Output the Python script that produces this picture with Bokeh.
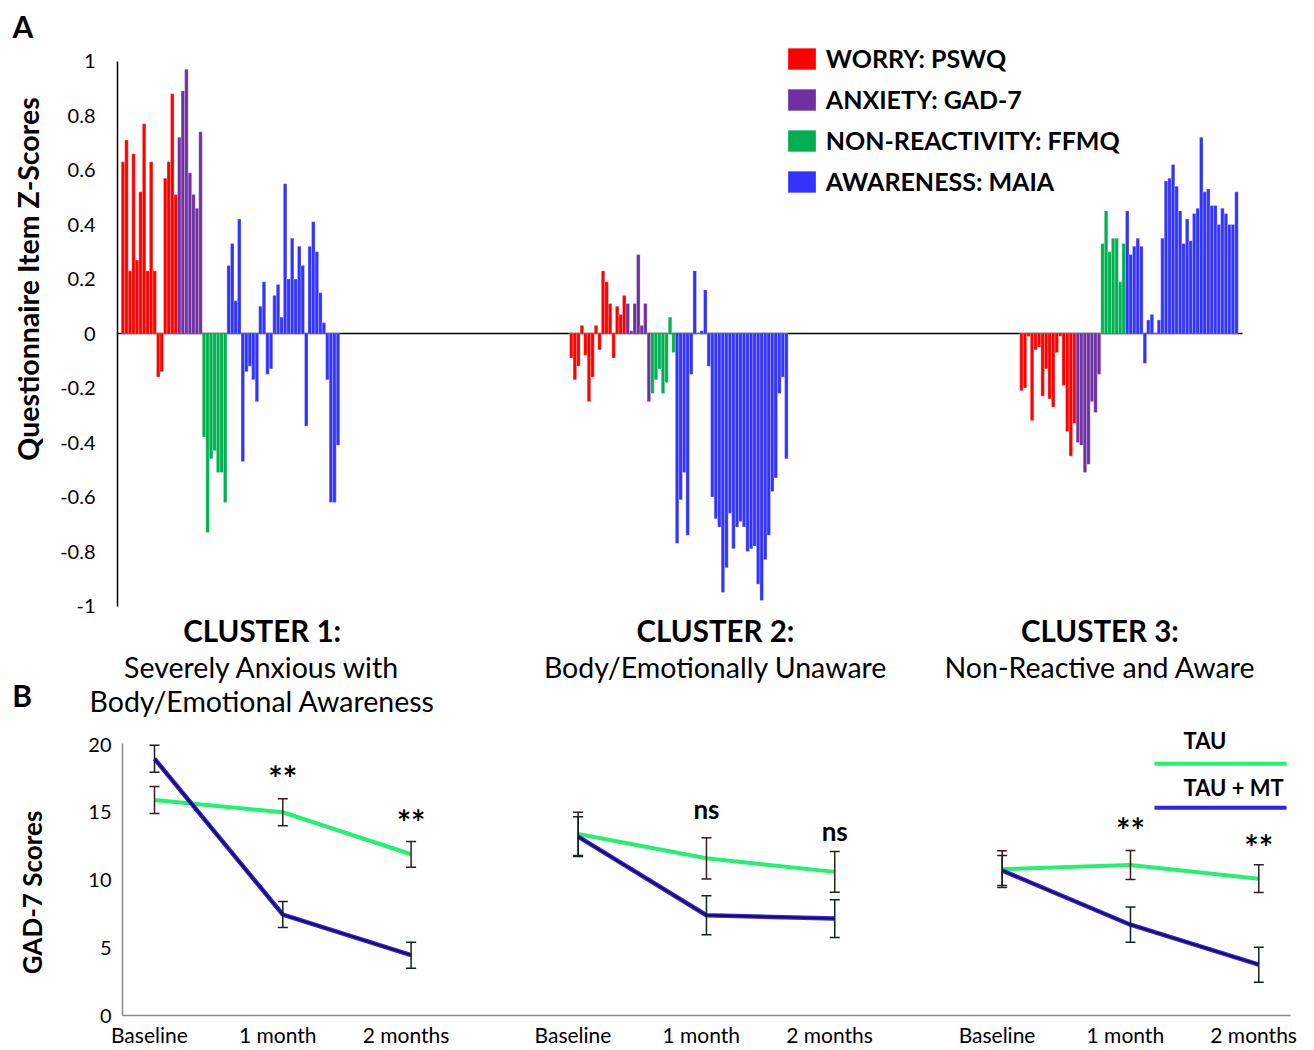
import math
from bokeh.plotting import figure
from bokeh.models import (Range1d, LinearAxis, FixedTicker, Legend, LegendItem,
                          Whisker, TeeHead, ColumnDataSource)
from bokeh.layouts import column, row
from bokeh.embed import file_html
from bokeh.resources import INLINE
from bokeh.core.properties import value

FONT = "Lato"

# ---------------- Panel A data ----------------
QUESTIONNAIRES = ["WORRY: PSWQ", "ANXIETY: GAD-7", "NON-REACTIVITY: FFMQ", "AWARENESS: MAIA"]
Q_COLORS = ["#FF0000", "#7030A0", "#00B050", "#3333FF"]

PSWQ_C1 = [0.63, 0.71, 0.23, 0.66, 0.27, 0.52, 0.77, 0.23, 0.63, 0.23, -0.16, -0.14, 0.57, 0.63, 0.88, 0.51]
GAD7_C1 = [0.72, 0.89, 0.97, 0.59, 0.51, 0.46, 0.74]
FFMQ_C1 = [-0.38, -0.73, -0.46, -0.43, -0.51, -0.51, -0.62]
MAIA_C1 = [0.25, 0.33, 0.12, 0.42, -0.47, -0.14, -0.12, -0.17, -0.25, 0.10, 0.19, -0.15, -0.13, 0.14, 0.18, 0.06,
           0.55, 0.20, 0.35, 0.20, 0.32, 0.25, -0.34, 0.32, 0.41, 0.30, 0.15, 0.04, -0.17, -0.62, -0.62, -0.41]

PSWQ_C2 = [-0.09, -0.17, -0.12, 0.03, -0.08, -0.25, -0.16, 0.03, -0.06, 0.23, 0.19, 0.11, -0.09, 0.10, 0.07, 0.14]
GAD7_C2 = [0.11, 0.01, 0.11, 0.29, 0.03, 0.11, -0.25]
FFMQ_C2 = [-0.22, -0.17, -0.13, -0.22, -0.18, 0.06, -0.07]
MAIA_C2 = [-0.77, -0.61, -0.51, -0.74, -0.15, 0.23, 0.0, 0.01, 0.16, -0.12, -0.60, -0.68, -0.71, -0.95, -0.86, -0.66,
           -0.79, -0.71, -0.69, -0.71, -0.80, -0.79, -0.78, -0.92, -0.98, -0.83, -0.74, -0.58, -0.53, -0.22, -0.16, -0.46]

PSWQ_C3 = [-0.21, -0.20, -0.01, -0.32, -0.06, -0.05, -0.23, -0.13, -0.24, -0.27, -0.07, -0.01, -0.19, -0.36, -0.45, -0.33]
GAD7_C3 = [-0.40, -0.41, -0.51, -0.48, -0.25, -0.29, -0.15]
FFMQ_C3 = [0.33, 0.45, 0.30, 0.35, 0.35, 0.19, 0.33]
MAIA_C3 = [0.45, 0.29, 0.32, 0.35, 0.32, -0.11, 0.05, 0.07, 0.0, 0.05, 0.35, 0.56, 0.57, 0.62, 0.54, 0.45,
           0.33, 0.42, 0.34, 0.44, 0.46, 0.72, 0.52, 0.53, 0.47, 0.47, 0.40, 0.46, 0.44, 0.40, 0.40, 0.52]

PSWQ = [PSWQ_C1, PSWQ_C2, PSWQ_C3]
GAD7 = [GAD7_C1, GAD7_C2, GAD7_C3]
FFMQ = [FFMQ_C1, FFMQ_C2, FFMQ_C3]
MAIA = [MAIA_C1, MAIA_C2, MAIA_C3]

CLUSTER_TITLES = ["CLUSTER 1:", "CLUSTER 2:", "CLUSTER 3:"]
CLUSTER_SUBTITLES = [["Severely Anxious with", "Body/Emotional Awareness"],
                     ["Body/Emotionally Unaware"],
                     ["Non-Reactive and Aware"]]
Y_LABEL_A = "Questionnaire Item Z-Scores"

Z_TICKS = [-1, -0.8, -0.6, -0.4, -0.2, 0, 0.2, 0.4, 0.6, 0.8, 1]
Z_TICK_LABELS = ["-1", "-0.8", "-0.6", "-0.4", "-0.2", "0", "0.2", "0.4", "0.6", "0.8", "1"]

# ---------------- Panel B data ----------------
TIMEPOINTS = ["Baseline", "1 month", "2 months"]
TAU_MEAN = [[15.9, 15.0, 11.9], [13.4, 11.6, 10.6], [10.8, 11.1, 10.1]]
TAU_ERR = [[1.0, 1.0, 0.95], [1.6, 1.52, 1.5], [1.35, 1.07, 1.02]]
MT_MEAN = [[18.95, 7.45, 4.45], [13.2, 7.4, 7.15], [10.7, 6.7, 3.75]]
MT_ERR = [[1.0, 0.96, 0.96], [1.47, 1.44, 1.39], [1.1, 1.3, 1.29]]
SIG_TEXT = [["**", "**"], ["ns", "ns"], ["**", "**"]]
SIG_Y = [[17.6, 14.35], [15.25, 13.65], [13.75, 12.5]]
GAD_TICKS = [0, 5, 10, 15, 20]
Y_LABEL_B = "GAD-7 Scores"
LEGEND_B = ["TAU", "TAU + MT"]

TAU_COLOR = "#22F26E"
MT_COLOR = "#3322E6"
MT_CORE = "#170a55"

# ---------------- layout helpers (page pixels -> data units) ----------------
PAGE_W = 1314
STRIP_A_W = 45
STRIP_B_W = 50
A_TOP_H = 648
A_BOT_H = 74
A_H = A_TOP_H + A_BOT_H
B_H = 328

BAR_PX = 3.525
BAR0_PX = 120.7
ZERO_PY = 333.0
Z_PX = 272.5
CLUSTER_OFFSETS = [0.0, 127.2, 254.9]


def ax(px):
    return (px - BAR0_PX) / BAR_PX


def ay(py):
    return (ZERO_PY - py) / Z_PX


B_X0 = 154.0
B_STEP = 128.3
B_Y0 = 1015.0
B_YPX = 13.55
B_CLUSTER_OFFSETS = [0.0, 3.302, 6.607]


def bx(px):
    return (px - B_X0) / B_STEP


def by(py):
    return (B_Y0 - py) / B_YPX


def blank(width, height, xr, yr, left=0, bottom=0):
    return figure(width=width, height=height, x_range=xr, y_range=yr, x_axis_type=None, y_axis_type=None,
                  output_backend="svg", toolbar_location=None, title=None,
                  min_border_left=left, min_border_right=0, min_border_top=0, min_border_bottom=bottom,
                  outline_line_color=None, background_fill_color="white", border_fill_color="white")


# ================= Panel A (bars) =================
stripA = blank(STRIP_A_W, A_TOP_H, Range1d(0, STRIP_A_W), Range1d(ay(A_TOP_H), ay(0)))
stripA.text(x=[22.5], y=[ay(25)], text=["A"], text_font=value(FONT), text_font_style="bold",
            text_font_size="30px", text_align="center", text_baseline="middle", text_color="black")
stripA.text(x=[27.5], y=[ay(278.5)], text=[Y_LABEL_A], angle=math.pi / 2, text_font=value(FONT),
            text_font_style="bold", text_font_size="28.5px", text_align="center", text_baseline="middle",
            text_color="black")

pA = blank(PAGE_W - STRIP_A_W, A_TOP_H, Range1d(ax(117), ax(PAGE_W)), Range1d(ay(A_TOP_H), ay(0)),
           left=117 - STRIP_A_W)

yaxA = LinearAxis(ticker=FixedTicker(ticks=Z_TICKS), bounds=(-1, 1),
                  major_label_overrides=dict(zip(Z_TICKS, Z_TICK_LABELS)),
                  major_tick_out=0, major_tick_in=0, minor_tick_out=0, minor_tick_in=0,
                  axis_line_color="black", axis_line_width=1.5,
                  major_label_standoff=22, major_label_text_font=FONT, major_label_text_font_size="20px",
                  major_label_text_color="black")
pA.add_layout(yaxA, "left")

# zero baseline of the bars
pA.segment(x0=[ax(117)], y0=[0], x1=[ax(1242)], y1=[0], line_color="black", line_width=1.5)

items = []
start = 0
for name, color, data in zip(QUESTIONNAIRES, Q_COLORS, [PSWQ, GAD7, FFMQ, MAIA]):
    xs, tops = [], []
    for c in range(3):
        for i, v in enumerate(data[c]):
            xs.append(CLUSTER_OFFSETS[c] + start + i + 0.5)
            tops.append(v)
    r = pA.vbar(x=xs, top=tops, bottom=0, width=1.0, fill_color=color, line_color="white",
                line_alpha=0.45, line_width=0.6)
    items.append(LegendItem(label=name, renderers=[r]))
    start += len(data[0])

legA = Legend(items=items, location=(783.8 - 117, A_TOP_H - 196.3), orientation="vertical",
              glyph_width=35, glyph_height=27, label_standoff=7, spacing=11, padding=0, margin=0,
              border_line_color=None, background_fill_alpha=0,
              label_text_font=FONT, label_text_font_style="bold", label_text_font_size="25px",
              label_text_color="black", label_height=22)
pA.add_layout(legA)

title_x = [ax(261.7), ax(715.0), ax(1099.5)]
pA.text(x=title_x, y=[ay(629.5)] * 3, text=CLUSTER_TITLES, text_font=value(FONT), text_font_style="bold",
        text_font_size="29.5px", text_align="center", text_baseline="middle", text_color="black")

# cluster descriptions + panel letter B
pAb = blank(PAGE_W, A_BOT_H, Range1d(ax(0), ax(PAGE_W)), Range1d(ay(A_H), ay(A_TOP_H)))
sub_x, sub_y, sub_t = [], [], []
for c, lines in enumerate(CLUSTER_SUBTITLES):
    for k, t in enumerate(lines):
        sub_x.append(title_x[c])
        sub_y.append(ay(666.5 + 33.5 * k))
        sub_t.append(t)
pAb.text(x=sub_x, y=sub_y, text=sub_t, text_font=value(FONT), text_font_size="28.5px",
         text_align="center", text_baseline="middle", text_color="black")
pAb.text(x=[ax(21.7)], y=[ay(694)], text=["B"], text_font=value(FONT), text_font_style="bold",
         text_font_size="30px", text_align="center", text_baseline="middle", text_color="black")

# ================= Panel B (lines) =================
B_BOTTOM = A_H + B_H - int(B_Y0)
stripB = blank(STRIP_B_W, B_H, Range1d(0, STRIP_B_W), Range1d(0, by(A_H)), bottom=B_BOTTOM)
stripB.text(x=[31], y=[by(892)], text=[Y_LABEL_B], angle=math.pi / 2, text_font=value(FONT),
            text_font_style="bold", text_font_size="26px", text_align="center", text_baseline="middle",
            text_color="black")

pB = blank(PAGE_W - STRIP_B_W, B_H, Range1d(bx(122), bx(PAGE_W)), Range1d(0, by(A_H)),
           left=122 - STRIP_B_W, bottom=B_BOTTOM)

yaxB = LinearAxis(ticker=FixedTicker(ticks=GAD_TICKS), bounds=(0, by(743)),
                  major_tick_out=0, major_tick_in=0, minor_tick_out=0, minor_tick_in=0,
                  axis_line_color="#8a8a8a", axis_line_width=1.5,
                  major_label_standoff=11, major_label_text_font=FONT, major_label_text_font_size="20px",
                  major_label_text_color="black")
pB.add_layout(yaxB, "left")

pts_x = [[o + t for t in range(3)] for o in B_CLUSTER_OFFSETS]
tick_x = [round(o + t - 0.04, 3) for o in B_CLUSTER_OFFSETS for t in range(3)]
tick_lbl = TIMEPOINTS * 3
xaxB = LinearAxis(ticker=FixedTicker(ticks=tick_x), bounds=(bx(122), bx(1290)),
                  major_label_overrides=dict(zip(tick_x, tick_lbl)),
                  major_tick_out=0, major_tick_in=0, minor_tick_out=0, minor_tick_in=0,
                  axis_line_color="#8a8a8a", axis_line_width=1.5,
                  major_label_standoff=6, major_label_text_font=FONT, major_label_text_font_size="21px",
                  major_label_text_color="black")
pB.add_layout(xaxB, "below")

tau_src = dict(base=[], upper=[], lower=[])
mt_src = dict(base=[], upper=[], lower=[])
for c in range(3):
    pB.line(pts_x[c], TAU_MEAN[c], line_color=TAU_COLOR, line_width=4)
    pB.line(pts_x[c], MT_MEAN[c], line_color=MT_COLOR, line_width=4.5)
    pB.line(pts_x[c], MT_MEAN[c], line_color=MT_CORE, line_width=1.8)
    for k in range(3):
        tau_src["base"].append(pts_x[c][k])
        tau_src["upper"].append(TAU_MEAN[c][k] + TAU_ERR[c][k])
        tau_src["lower"].append(TAU_MEAN[c][k] - TAU_ERR[c][k])
        mt_src["base"].append(pts_x[c][k])
        mt_src["upper"].append(MT_MEAN[c][k] + MT_ERR[c][k])
        mt_src["lower"].append(MT_MEAN[c][k] - MT_ERR[c][k])

for src, col in [(tau_src, "#3a1c1c"), (mt_src, "#152222")]:
    w = Whisker(base="base", upper="upper", lower="lower", source=ColumnDataSource(src), dimension="height",
                line_color=col, line_width=1.5, level="overlay",
                upper_head=TeeHead(size=10, line_color=col, line_width=1.5),
                lower_head=TeeHead(size=10, line_color=col, line_width=1.5))
    pB.add_layout(w)

sig_x, sig_y, sig_t = [], [], []
for c in range(3):
    for k in range(2):
        sig_x.append(pts_x[c][k + 1])
        sig_y.append(SIG_Y[c][k])
        sig_t.append(SIG_TEXT[c][k])
sig_size = ["34px" if t == "**" else "26px" for t in sig_t]
pB.text(x=sig_x, y=sig_y, text=sig_t, text_font=value(FONT), text_font_style="bold", text_font_size=sig_size,
        text_align="center", text_baseline="middle", text_color="black")

# legend of panel B (label above a line sample)
pB.text(x=[bx(1183)] * 2, y=[by(740), by(786.7)], text=LEGEND_B, text_font=value(FONT),
        text_font_style="bold", text_font_size="22px", text_align="left", text_baseline="middle",
        text_color="black")
pB.line([bx(1154), bx(1286)], [by(763.3)] * 2, line_color=TAU_COLOR, line_width=4)
pB.line([bx(1154), bx(1286)], [by(807.3)] * 2, line_color=MT_COLOR, line_width=4)

layout = column(row(stripA, pA, spacing=0), pAb, row(stripB, pB, spacing=0), spacing=0)
open("out.html", "w").write(file_html(layout, INLINE))
